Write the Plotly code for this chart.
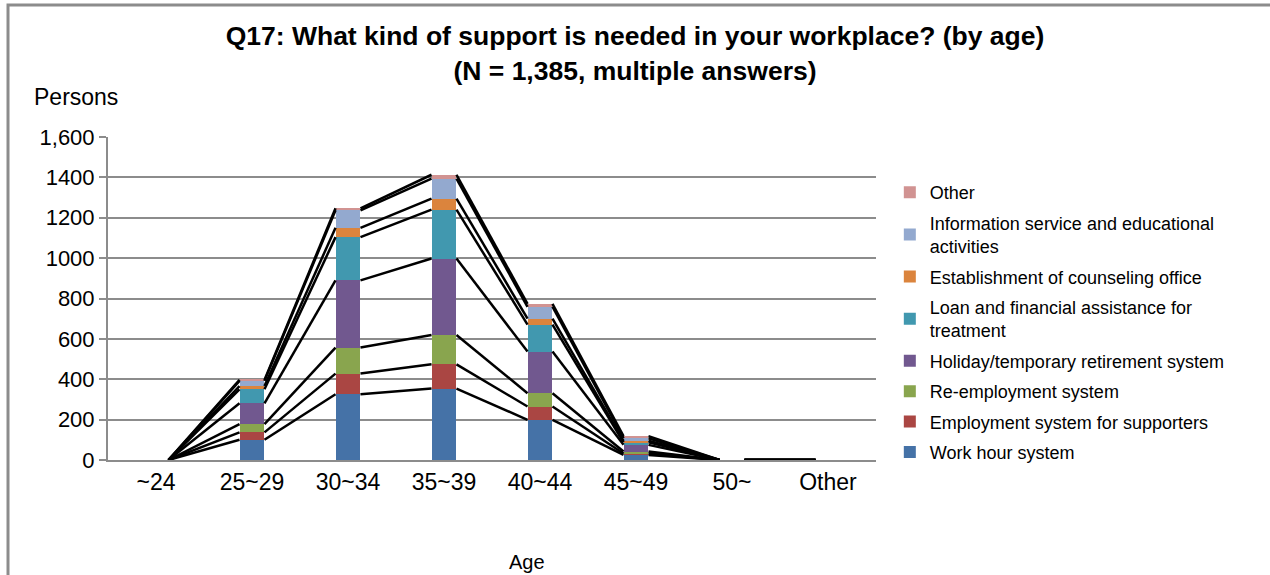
import plotly.graph_objects as go

categories = ["~24", "25~29", "30~34", "35~39", "40~44", "45~49", "50~", "Other"]

work_hour = [0, 100, 326, 354, 199, 25, 0, 0]
employment_supporters = [0, 37, 102, 120, 66, 7, 0, 0]
re_employment = [0, 41, 129, 145, 66, 10, 0, 0]
holiday = [0, 103, 333, 379, 206, 33, 0, 0]
loan = [0, 69, 214, 242, 134, 13, 0, 0]
counseling = [0, 16, 46, 55, 29, 7, 0, 0]
information = [0, 26, 87, 99, 59, 13, 0, 0]
other = [0, 5, 10, 19, 14, 10, 0, 0]

series_names = [
    "Work hour system",
    "Employment system for supporters",
    "Re-employment system",
    "Holiday/temporary retirement system",
    "Loan and financial assistance for<br>treatment",
    "Establishment of counseling office",
    "Information service and educational<br>activities",
    "Other",
]
series_values = [work_hour, employment_supporters, re_employment, holiday,
                 loan, counseling, information, other]
colors = ["#4572A7", "#AA4643", "#89A54E", "#71588F",
          "#4198AF", "#DB843D", "#93A9CF", "#D19392"]

y_tick_vals = [0, 200, 400, 600, 800, 1000, 1200, 1400, 1600]
y_tick_text = ["0", "200", "400", "600", "800", "1000", "1200", "1400", "1,600"]

FONT = "Liberation Sans, Arial, sans-serif"
BAR_W = 0.26

x_idx = list(range(len(categories)))
n_series = len(series_values)
fig = go.Figure()

for k, (name, vals, col) in enumerate(zip(series_names, series_values, colors)):
    fig.add_trace(go.Bar(
        x=x_idx, y=vals, name=name, width=BAR_W,
        legendgroup=f"g{k}", legendrank=n_series - k,
        marker=dict(color=col, line=dict(width=0)),
    ))

# series lines (connect tops of each stacked segment between neighbouring bars)
cum = [0] * len(categories)
for vals in series_values:
    cum = [c + v for c, v in zip(cum, vals)]
    lx, ly = [], []
    for i in range(len(categories) - 1):
        lx += [x_idx[i] + BAR_W / 2, x_idx[i + 1] - BAR_W / 2, None]
        ly += [cum[i], cum[i + 1], None]
    fig.add_trace(go.Scatter(
        x=lx, y=ly, mode="lines", showlegend=False, hoverinfo="skip",
        line=dict(color="black", width=2.5),
    ))

fig.update_layout(
    width=1270, height=575,
    margin=dict(l=108, r=394, t=137, b=115),
    paper_bgcolor="white", plot_bgcolor="white",
    barmode="stack",
    font=dict(family=FONT, color="black"),
    title=dict(
        text="<b>Q17: What kind of support is needed in your workplace? (by age)<br>(N = 1,385, multiple answers)</b>",
        x=0.5, xref="container", xanchor="center",
        y=0.921, yref="container", yanchor="top",
        font=dict(size=26.5, family=FONT, color="black"),
    ),
    legend=dict(
        x=1.018, y=0.885, xanchor="left", yanchor="top",
        traceorder="grouped",
        tracegroupgap=4,
        font=dict(size=18, family=FONT, color="black"),
        bgcolor="rgba(0,0,0,0)",
        itemwidth=30,
    ),
    xaxis=dict(
        range=[-0.5, 7.5],
        tickmode="array", tickvals=x_idx, ticktext=categories,
        showgrid=False, zeroline=False,
        showline=True, linecolor="#8c8c8c", linewidth=2,
        ticks="", tickfont=dict(size=23, family=FONT, color="black"),
    ),
    yaxis=dict(
        range=[0, 1600],
        tickmode="array", tickvals=y_tick_vals, ticktext=y_tick_text,
        showgrid=True, gridcolor="#8c8c8c", gridwidth=2,
        zeroline=False,
        showline=True, linecolor="#8c8c8c", linewidth=2,
        ticks="outside", ticklen=7, tickcolor="#8c8c8c", tickwidth=2,
        tickfont=dict(size=22, family=FONT, color="black"),
    ),
    annotations=[
        dict(text="Persons", xref="paper", yref="paper",
             x=-0.099, y=1.124, xanchor="left", yanchor="middle",
             showarrow=False, font=dict(size=23, family=FONT, color="black")),
        dict(text="Age", xref="paper", yref="paper",
             x=0.5456, y=-0.316, xanchor="center", yanchor="middle",
             showarrow=False, font=dict(size=20, family=FONT, color="black")),
    ],
    shapes=[
        dict(type="rect", xref="paper", yref="paper",
             x0=-0.1302, y0=-1.0, x1=2.0, y1=1.4087,
             line=dict(color="#8c8c8c", width=3), fillcolor="rgba(0,0,0,0)",
             layer="below"),
    ],
)

fig.write_html("out.html")
